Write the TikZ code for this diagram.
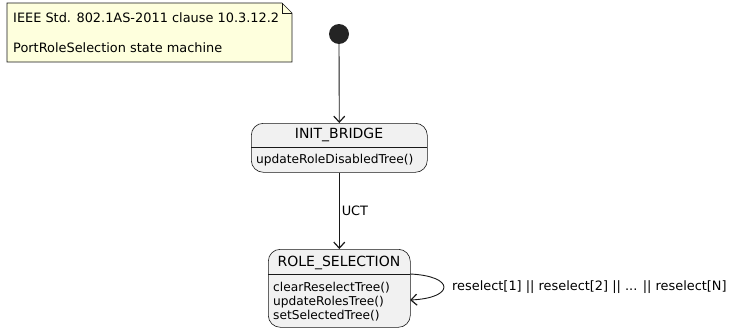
\documentclass[tikz,border=0pt]{standalone}
\usepackage{fontspec}
\setmainfont{DejaVu Sans}
\usetikzlibrary{arrows.meta}
\definecolor{statefill}{HTML}{F1F1F1}
\definecolor{lineclr}{HTML}{181818}
\definecolor{notefill}{HTML}{FEFFDD}
\begin{document}
\begin{tikzpicture}[x=1pt,y=-1pt,
  statebox/.style={draw=lineclr,fill=statefill,rounded corners=12pt,line width=0.6pt,inner sep=0pt,anchor=north west},
  titletxt/.style={font=\fontsize{14}{16}\selectfont,inner sep=0pt},
  bodytxt/.style={font=\fontsize{12.2}{14}\selectfont,inner sep=0pt,anchor=west,align=left},
  notetxt/.style={font=\fontsize{12.9}{15}\selectfont,inner sep=0pt,anchor=west},
  conn/.style={draw=lineclr,line width=0.9pt,-{Straight Barb[length=6pt,width=11pt,line width=1.2pt]}},
  lbl/.style={font=\fontsize{12.9}{15}\selectfont,inner sep=0pt}]
\useasboundingbox (0,0) rectangle (739,332);
% note
\draw[draw=lineclr,fill=notefill,line width=0.6pt] (7,3) -- (282,3) -- (292,13) -- (292,62) -- (7,62) -- cycle;
\draw[draw=lineclr,line width=0.6pt] (282,3) -- (282,13) -- (292,13);
\node[notetxt] (n1) at (13,18) {IEEE Std. 802.1AS-2011 clause 10.3.12.2};
\node[notetxt] (n2) at (13,48) {PortRoleSelection state machine};
% start
\node[circle,fill=lineclr!95!white,minimum size=20pt,inner sep=0pt] (start) at (339,34) {};
% INIT_BRIDGE
\node[statebox,minimum width=176pt,minimum height=49pt] (ib) at (251,123) {};
\draw[draw=lineclr,line width=0.6pt] (251,147) -- (427,147);
\node[titletxt] (ibt) at (339,135) {INIT\_BRIDGE};
\node[bodytxt] (ibb) at (256,160) {updateRoleDisabledTree()};
% ROLE_SELECTION
\node[statebox,minimum width=142pt,minimum height=78pt] (rs) at (268,249) {};
\draw[draw=lineclr,line width=0.6pt] (268,274) -- (410,274);
\node[titletxt] (rst) at (339,263) {ROLE\_SELECTION};
\node[bodytxt] (rsb1) at (273,288) {clearReselectTree()};
\node[bodytxt] (rsb2) at (273,302) {updateRolesTree()};
\node[bodytxt] (rsb3) at (273,316) {setSelectedTree()};
% connectors
\draw[conn] (start.south) -- (ib.north);
\draw[conn] (ib.south) -- node[lbl,anchor=west,xshift=2pt] (uct) {UCT} (rs.north);
\coordinate (lp1) at (410,274);
\coordinate (lp2) at (410,300);
\draw[conn] (lp1) .. controls (455,276) and (455,298) .. (lp2);
\node[lbl,anchor=west] (loopl) at (452,287) {reselect[1] || reselect[2] || ... || reselect[N]};
\end{tikzpicture}
\end{document}
